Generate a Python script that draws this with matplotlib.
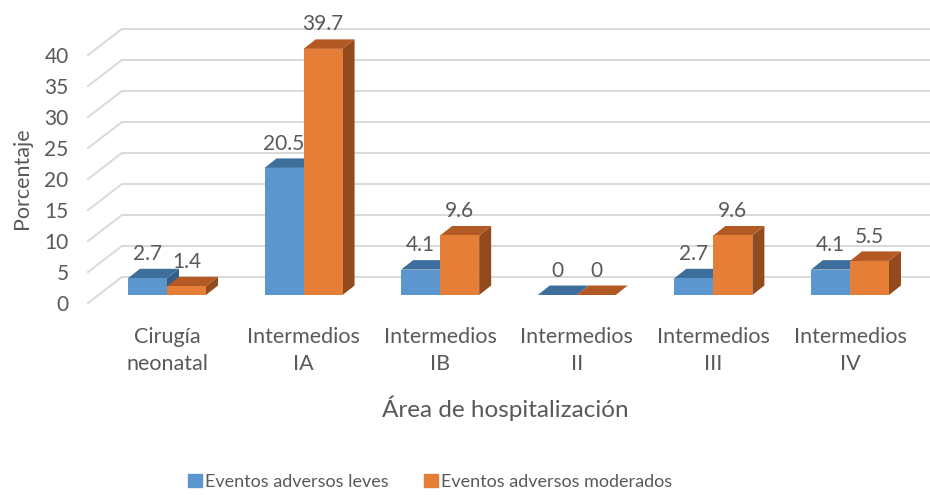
import matplotlib
matplotlib.use('Agg')
import matplotlib.pyplot as plt
from matplotlib.patches import Polygon, Patch

# Data
areas = ['Cirugía\nneonatal', 'Intermedios\nIA', 'Intermedios\nIB',
         'Intermedios\nII', 'Intermedios\nIII', 'Intermedios\nIV']
leves = [2.7, 20.5, 4.1, 0, 2.7, 4.1]
moderados = [1.4, 39.7, 9.6, 0, 9.6, 5.5]
yticks = [0, 5, 10, 15, 20, 25, 30, 35, 40]

GRAY = '#595959'
GRID = '#d9d9d9'
BLUE = ('#5b96cf', '#3e6f9c', '#345f86')      # front, top, side
ORANGE = ('#e57e36', '#b35a24', '#934a1c')

plt.rcParams['font.family'] = ['Lato', 'DejaVu Sans']

W = 0.2855    # bar width (category units)
DX = 0.088    # depth offset x
DY = 1.53     # depth offset y (value units)
WALL = 2.9    # back wall offset (value units)
FRONT = -1.3  # left wall front offset

fig = plt.figure(figsize=(9.3, 4.95), dpi=100)
ax = fig.add_axes([88/930, (495-305)/495, 842/930, 290/495])
ax.set_xlim(-0.578, 5.586)
ax.set_ylim((295-305)/6.2, (295-15)/6.2)
for s in ax.spines.values():
    s.set_visible(False)

# gridlines: left wall diagonal + back wall horizontal
for v in yticks:
    ax.plot([-0.578, -0.33, 5.586], [v + FRONT, v + WALL, v + WALL],
            color=GRID, lw=1.4, zorder=0, clip_on=False)


def draw_bar(x0, h, cols):
    front, top, side = cols
    ax.add_patch(Polygon([(x0 + W, 0), (x0 + W + DX, DY), (x0 + W + DX, h + DY), (x0 + W, h)],
                         closed=True, facecolor=side, edgecolor='none', zorder=2))
    ax.add_patch(Polygon([(x0, h), (x0 + DX, h + DY), (x0 + W + DX, h + DY), (x0 + W, h)],
                         closed=True, facecolor=top, edgecolor='none', zorder=2))
    ax.bar(x0, h, width=W, align='edge', color=front, edgecolor='none', zorder=2)


for i in range(len(areas)):
    draw_bar(i - W, leves[i], BLUE)
    ax.text(i - W/2, leves[i] + DY + 2.4, '{:g}'.format(leves[i]), ha='center', va='center',
            fontsize=15, color=GRAY, zorder=3)
    draw_bar(i, moderados[i], ORANGE)
    ax.text(i + W/2, moderados[i] + DY + 2.4, '{:g}'.format(moderados[i]), ha='center', va='center',
            fontsize=15, color=GRAY, zorder=3)

ax.set_yticks([v + FRONT for v in yticks])
ax.set_yticklabels([str(v) for v in yticks])
ax.set_xticks(range(len(areas)))
ax.set_xticklabels(areas, linespacing=1.4)
ax.tick_params(axis='y', length=0, pad=14, labelsize=15, labelcolor=GRAY)
ax.tick_params(axis='x', length=0, pad=16, labelsize=15.5, labelcolor=GRAY)

fig.text(22/930, 1 - 178/495, 'Porcentaje', rotation=90, ha='center', va='center',
         fontsize=15.5, color=GRAY)
fig.text(505/930, 1 - 408/495, 'Área de hospitalización', ha='center', va='center',
         fontsize=17.5, color=GRAY)

handles = [Patch(color=BLUE[0], label='Eventos adversos leves'),
           Patch(color=ORANGE[0], label='Eventos adversos moderados')]
leg = fig.legend(handles=handles, loc='center', bbox_to_anchor=(430/930, 1 - 482/495), ncol=2,
                 frameon=False, fontsize=13, handlelength=0.75, handleheight=0.75,
                 handletextpad=0.15, columnspacing=2.0)
for t in leg.get_texts():
    t.set_color(GRAY)

fig.savefig('out.png', dpi=100)
